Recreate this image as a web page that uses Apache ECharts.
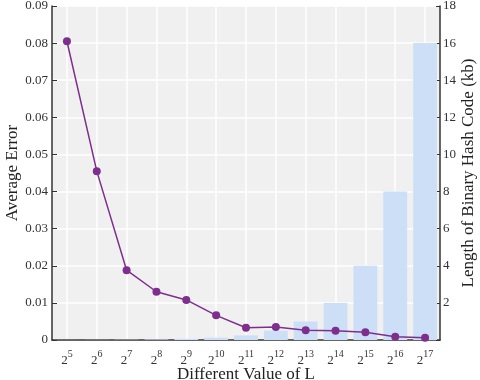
<!DOCTYPE html>
<html><head><meta charset="utf-8">
<script src="https://cdn.jsdelivr.net/npm/echarts@6/dist/echarts.min.js"></script>
<style>html,body{margin:0;padding:0;background:#fff}#c{width:480px;height:380px}</style>
</head><body><div id="c"></div>
<script>
const exponents = ['5','6','7','8','9','10','11','12','13','14','15','16','17'];
const avgError = [0.0805,0.0455,0.0188,0.0130,0.0108,0.00665,0.0033,0.0035,0.0026,0.0025,0.0021,0.0009,0.0006];
const codeLengthKb = [0.00390625,0.0078125,0.015625,0.03125,0.0625,0.125,0.25,0.5,1,2,4,8,16];
const leftTicks = {min:0,max:0.09,interval:0.01};
const rightTicks = {min:0,max:18,interval:2};

const serif = '"Liberation Serif","DejaVu Serif",serif';
const chart = echarts.init(document.getElementById('c'), null, {renderer:'canvas'});
chart.setOption({
  animation:false,
  backgroundColor:'#fff',
  grid:{left:52,right:40,top:6,bottom:40,containLabel:false,outerBoundsMode:'none',
    show:true,backgroundColor:'#f0f0f0',borderWidth:0},
  xAxis:{
    type:'category', data:exponents, boundaryGap:true,
    name:'Different Value of L', nameLocation:'middle', nameGap:26, nameMoveOverlap:false,
    nameTextStyle:{fontFamily:serif,fontSize:17,color:'#222'},
    axisLine:{lineStyle:{color:'#333',width:1.5}},
    axisTick:{inside:true,length:5,alignWithLabel:true,interval:0,lineStyle:{color:'#333',width:1}},
    splitLine:{show:true,alignWithLabel:true,interval:0,lineStyle:{color:'#fff',width:1.5}},
    axisLabel:{
      margin:14, interval:0, hideOverlap:false,
      formatter:function(v){return '{b|2}{s|'+v+'}';},
      rich:{
        b:{fontFamily:serif,fontSize:13,color:'#333',lineHeight:14},
        s:{fontFamily:serif,fontSize:10,color:'#333',lineHeight:10,padding:[0,0,13,0]}
      }
    }
  },
  yAxis:[{
    type:'value', min:leftTicks.min, max:leftTicks.max, interval:leftTicks.interval,
    name:'Average Error', nameLocation:'middle', nameGap:31, nameMoveOverlap:false,
    nameTextStyle:{fontFamily:serif,fontSize:17,color:'#222'},
    axisLine:{show:true,lineStyle:{color:'#333',width:1.5}},
    axisTick:{show:true,inside:true,length:5,lineStyle:{color:'#333'}},
    splitLine:{show:true,lineStyle:{color:'#fff',width:1.5}},
    axisLabel:{fontFamily:serif,fontSize:13,color:'#333',margin:4,
      formatter:function(v){return v===0?'0':v.toFixed(2);}}
  },{
    type:'value', min:rightTicks.min, max:rightTicks.max, interval:rightTicks.interval, position:'right',
    name:'Length of Binary Hash Code (kb)', nameLocation:'middle', nameGap:20, nameRotate:90, nameMoveOverlap:false,
    nameTextStyle:{fontFamily:serif,fontSize:17,color:'#222'},
    axisLine:{show:true,lineStyle:{color:'#333',width:1.5}},
    axisTick:{show:true,inside:true,length:4,lineStyle:{color:'#333'}},
    splitLine:{show:false},
    axisLabel:{fontFamily:serif,fontSize:13,color:'#333',margin:3,
      formatter:function(v){return v===0?'':String(v);}}
  }],
  series:[{
    type:'bar', yAxisIndex:1, data:codeLengthKb, barCategoryGap:'20%',
    itemStyle:{color:'#cddff7'}, z:2
  },{
    type:'line', yAxisIndex:0, data:avgError, symbol:'circle', symbolSize:8,
    lineStyle:{color:'#7e2f8e',width:1.5}, itemStyle:{color:'#7e2f8e'}, z:3
  }]
});
</script></body></html>
